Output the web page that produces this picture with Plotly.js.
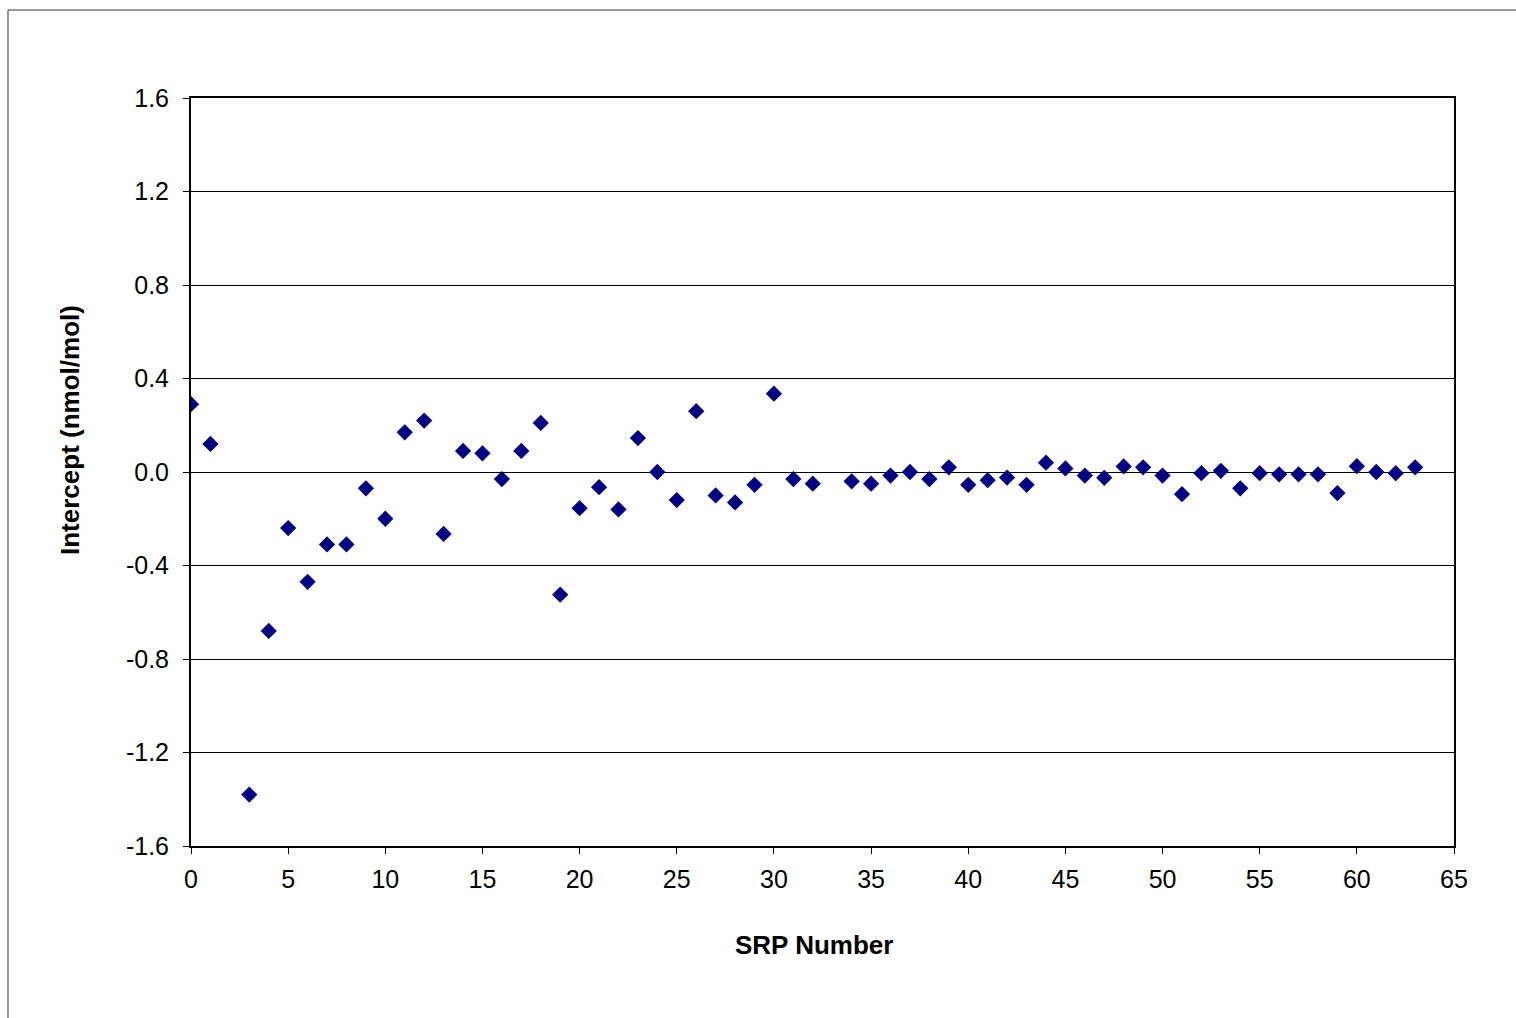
<!DOCTYPE html>
<html>
<head>
<meta charset="utf-8">
<script src="https://cdn.plot.ly/plotly-3.0.1.min.js"></script>
<style>html,body{margin:0;padding:0;background:#fff;}#chart{width:1516px;height:1018px;}</style>
</head>
<body>
<div id="chart"></div>
<script>
const srpNumber = [0,1,3,4,5,6,7,8,9,10,11,12,13,14,15,16,17,18,19,20,21,22,23,24,25,26,27,28,29,30,31,32,34,35,36,37,38,39,40,41,42,43,44,45,46,47,48,49,50,51,52,53,54,55,56,57,58,59,60,61,62,63];
const intercept = [0.29,0.12,-1.38,-0.68,-0.24,-0.47,-0.31,-0.31,-0.07,-0.20,0.17,0.22,-0.265,0.09,0.08,-0.03,0.09,0.21,-0.525,-0.155,-0.065,-0.16,0.145,0.0,-0.12,0.26,-0.10,-0.13,-0.055,0.335,-0.03,-0.05,-0.04,-0.05,-0.015,0.0,-0.03,0.02,-0.055,-0.035,-0.024,-0.055,0.04,0.015,-0.015,-0.025,0.024,0.02,-0.015,-0.095,-0.005,0.005,-0.07,-0.005,-0.01,-0.01,-0.01,-0.09,0.025,0.0,-0.005,0.02];
const yTickVals = [-1.6,-1.2,-0.8,-0.4,0.0,0.4,0.8,1.2,1.6];
const yTickText = ["-1.6","-1.2","-0.8","-0.4","0.0","0.4","0.8","1.2","1.6"];
const xTitle = 'SRP Number';
const yTitle = 'Intercept (nmol/mol)';

const trace = {
  x: srpNumber, y: intercept, type: 'scatter', mode: 'markers',
  marker: {symbol: 'diamond', size: 12.5, color: '#000080', line: {width: 0}},
  hoverinfo: 'x+y', showlegend: false
};
const fam = 'Liberation Sans, Arial, sans-serif';
const tickFont = {family: fam, size: 25, color: '#000'};
const titleFont = {family: fam, size: 26, color: '#000'};
const layout = {
  width: 1516, height: 1018,
  margin: {l: 191, r: 62, t: 98, b: 172},
  paper_bgcolor: '#fff', plot_bgcolor: '#fff',
  font: tickFont,
  showlegend: false,
  xaxis: {
    range: [0, 65], tickmode: 'linear', tick0: 0, dtick: 5,
    showgrid: false, zeroline: false,
    showline: true, linecolor: '#000', linewidth: 2, mirror: true,
    ticks: 'outside', ticklen: 6, tickwidth: 1, tickcolor: '#000',
    tickfont: tickFont, ticklabelstandoff: 4
  },
  yaxis: {
    range: [-1.6, 1.6], tickmode: 'array', tickvals: yTickVals, ticktext: yTickText,
    showgrid: true, gridcolor: '#000', gridwidth: 1, zeroline: false,
    showline: true, linecolor: '#000', linewidth: 2, mirror: true,
    ticks: 'outside', ticklen: 6, tickwidth: 1, tickcolor: '#000',
    tickfont: tickFont, ticklabelstandoff: 9
  },
  annotations: [
    {text: '<b>' + xTitle + '</b>', xref: 'paper', yref: 'paper',
     x: (814 - 191) / 1263, y: (846 - 945) / 748, xanchor: 'center', yanchor: 'middle',
     showarrow: false, font: titleFont},
    {text: '<b>' + yTitle + '</b>', xref: 'paper', yref: 'paper', textangle: -90,
     x: (70 - 191) / 1263, y: (846 - 430) / 748, xanchor: 'center', yanchor: 'middle',
     showarrow: false, font: titleFont}
  ],
  shapes: [{
    type: 'rect', xref: 'paper', yref: 'paper',
    x0: -0.1449, x1: 1.3, y0: -0.4, y1: 1.1176,
    line: {color: '#333', width: 1}, fillcolor: 'rgba(0,0,0,0)', layer: 'below'
  }]
};
Plotly.newPlot('chart', [trace], layout, {staticPlot: true, displayModeBar: false});
</script>
</body>
</html>
